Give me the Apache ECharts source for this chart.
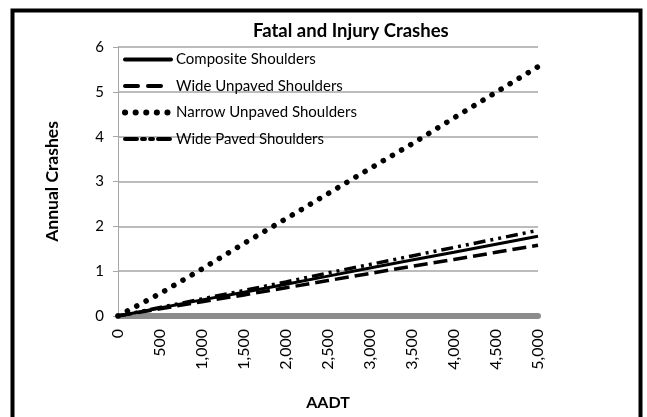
<!DOCTYPE html>
<html>
<head>
<meta charset="utf-8">
<script src="https://cdn.jsdelivr.net/npm/echarts@6/dist/echarts.min.js"></script>
<style>
  html, body { margin: 0; padding: 0; background: #fff; }
  #myChart { width: 647px; height: 417px; }
</style>
</head>
<body>
<div id="myChart"></div>
<script>
// AADT values along x axis
const aadt = [0, 500, 1000, 1500, 2000, 2500, 3000, 3500, 4000, 4500, 5000];
// annual crashes
const composite = [0, 0.18, 0.36, 0.53, 0.71, 0.89, 1.07, 1.25, 1.42, 1.60, 1.78];
const wideUnpaved = [0, 0.16, 0.32, 0.47, 0.63, 0.79, 0.95, 1.11, 1.26, 1.42, 1.58];
const narrowUnpaved = [0, 0.50, 1.05, 1.62, 2.17, 2.73, 3.29, 3.84, 4.42, 4.99, 5.56];
const widePaved = [0, 0.19, 0.38, 0.57, 0.76, 0.96, 1.15, 1.34, 1.53, 1.72, 1.91];
const seriesNames = ["Composite Shoulders", "Wide Unpaved Shoulders", "Narrow Unpaved Shoulders", "Wide Paved Shoulders"];

const FONT = "Lato, 'Liberation Sans', sans-serif";

function pairs(ys) {
  return aadt.map((x, i) => [x, ys[i]]);
}

let myChart = echarts.init(document.getElementById("myChart"));
let option = {
  animation: false,
  backgroundColor: "#fff",
  textStyle: { fontFamily: FONT, color: "#000" },
  title: {
    text: "Fatal and Injury Crashes",
    left: 253,
    top: 22,
    padding: 0,
    textStyle: { fontFamily: FONT, fontSize: 18.5, fontWeight: "bold", color: "#000" },
  },
  legend: {
    orient: "vertical",
    left: 122,
    top: 52,
    padding: 0,
    itemWidth: 46,
    itemHeight: 14,
    itemGap: 11.5,
    data: [
      { name: seriesNames[0] },
      { name: seriesNames[1], lineStyle: { type: [13, 10] } },
      { name: seriesNames[2], lineStyle: { width: 6, type: [0.1, 10.5] } },
      { name: seriesNames[3] },
    ],
    itemStyle: { opacity: 0 },
    lineStyle: { width: 4, cap: "round" },
    textStyle: { fontFamily: FONT, fontSize: 15, color: "#000" },
  },
  grid: { left: 118, right: 109, top: 47, bottom: 101 },
  xAxis: {
    type: "value",
    min: 0,
    max: 5000,
    interval: 500,
    name: "AADT",
    nameLocation: "middle",
    nameGap: 79,
    nameTextStyle: { fontFamily: FONT, fontSize: 16, fontWeight: "bold", color: "#000" },
    axisLine: { show: true, onZero: true, lineStyle: { color: "#8c8c8c", width: 6 } },
    axisTick: { show: false },
    splitLine: { show: false },
    axisLabel: {
      rotate: 90,
      margin: 13,
      fontSize: 16,
      color: "#000",
      fontFamily: FONT,
      formatter: (v) => v.toLocaleString("en-US"),
    },
  },
  yAxis: {
    type: "value",
    min: 0,
    max: 6,
    interval: 1,
    name: "Annual Crashes",
    nameLocation: "middle",
    nameGap: 57,
    nameRotate: 90,
    nameTextStyle: { fontFamily: FONT, fontSize: 17.5, fontWeight: "bold", color: "#000" },
    axisLine: { show: true, lineStyle: { color: "#a6a6a6", width: 1 } },
    axisTick: { show: true, inside: false, length: 5, lineStyle: { color: "#a6a6a6" } },
    splitLine: { show: true, lineStyle: { color: "#a6a6a6", width: 1.5 } },
    axisLabel: { margin: 14, fontSize: 15, color: "#000", fontFamily: FONT },
  },
  series: [
    {
      name: seriesNames[0],
      type: "line",
      symbol: "none",
      data: pairs(composite),
      lineStyle: { color: "#000", width: 3, type: "solid" },
      itemStyle: { color: "#000" },
    },
    {
      name: seriesNames[1],
      type: "line",
      symbol: "none",
      data: pairs(wideUnpaved),
      lineStyle: { color: "#000", width: 3.5, type: [14, 6] },
      itemStyle: { color: "#000" },
    },
    {
      name: seriesNames[2],
      type: "line",
      symbol: "none",
      data: pairs(narrowUnpaved),
      lineStyle: { color: "#000", width: 5.5, type: [0.1, 10.5], cap: "round" },
      itemStyle: { color: "#000" },
    },
    {
      name: seriesNames[3],
      type: "line",
      symbol: "none",
      data: pairs(widePaved),
      lineStyle: { color: "#000", width: 3.5, type: [12, 5, 3, 5, 3, 5] },
      itemStyle: { color: "#000" },
    },
  ],
  graphic: [
    {
      type: "rect",
      left: 10,
      top: 8,
      shape: { width: 628, height: 440 },
      style: { fill: "none", stroke: "#000", lineWidth: 4 },
      silent: true,
    },
  ],
};
myChart.setOption(option);
</script>
</body>
</html>
